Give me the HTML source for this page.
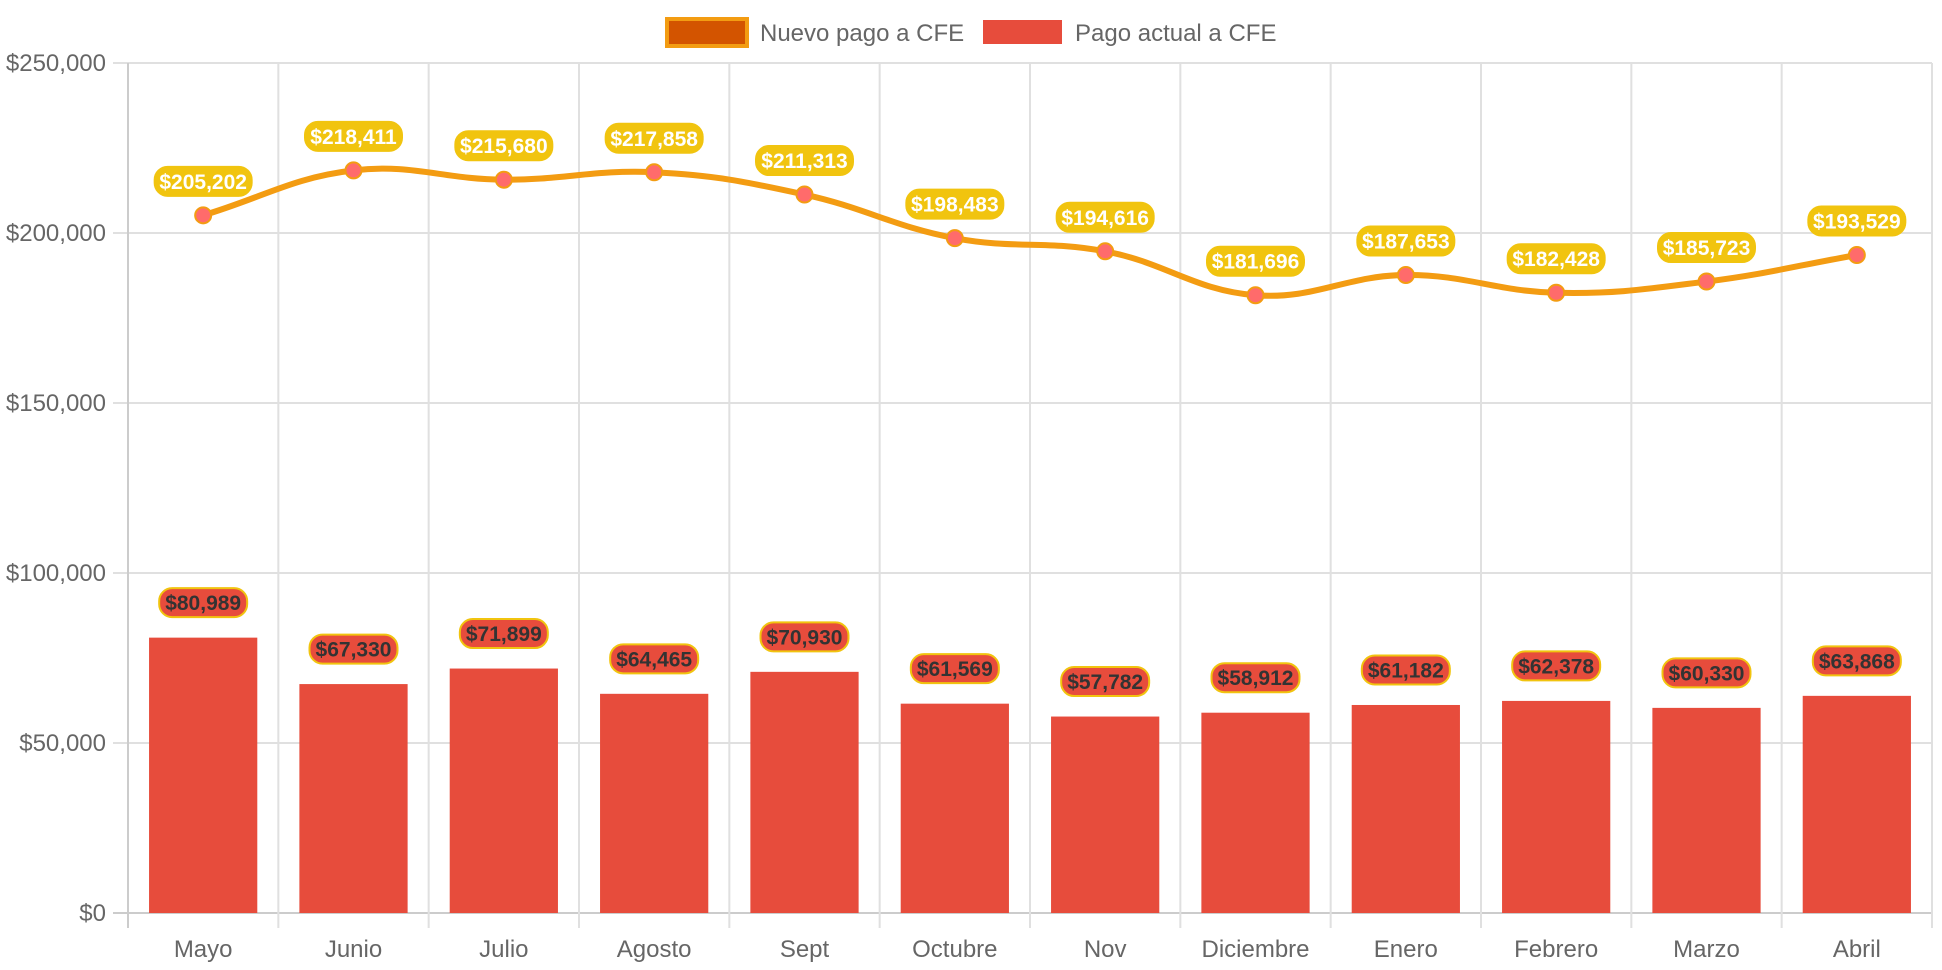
<!DOCTYPE html>
<html><head><meta charset="utf-8"><style>
html,body{margin:0;padding:0;background:#fff;}
svg{display:block;font-family:"Liberation Sans",sans-serif;}
</style></head><body>
<svg id="chart" width="1942" height="970" viewBox="0 0 1942 970" xmlns="http://www.w3.org/2000/svg">
  <g id="legend">
    <g>
      <rect x="667" y="19" width="80" height="27" fill="#d35400" stroke="#f39c12" stroke-width="4"/>
      <text x="760" y="41" font-size="24" fill="#666">Nuevo pago a CFE</text>
    </g>
    <g>
      <rect x="983" y="20" width="79" height="24" fill="#e74c3c"/>
      <text x="1075" y="41" font-size="24" fill="#666">Pago actual a CFE</text>
    </g>
  </g>
  <g id="grid"></g>
  <g id="bars"></g>
  <g id="line"></g>
  <g id="labels"></g>
</svg>
<script>
const categories = ["Mayo","Junio","Julio","Agosto","Sept","Octubre","Nov","Diciembre","Enero","Febrero","Marzo","Abril"];
const nuevoPago = [205202,218411,215680,217858,211313,198483,194616,181696,187653,182428,185723,193529];
const pagoActual = [80989,67330,71899,64465,70930,61569,57782,58912,61182,62378,60330,63868];
const yTicks = [0,50000,100000,150000,200000,250000];
const yTickLabels = ["$0","$50,000","$100,000","$150,000","$200,000","$250,000"];

const NS = "http://www.w3.org/2000/svg";
const L = 128, R = 1932, T = 63, B = 913, YMAX = 250000;
const cw = (R - L) / categories.length;
const xc = i => L + cw * (i + 0.5);
const y = v => B - v / YMAX * (B - T);
const fmt = v => "$" + v.toLocaleString("en-US");
function mk(tag, attrs, parent) {
  const e = document.createElementNS(NS, tag);
  for (const k in attrs) e.setAttribute(k, attrs[k]);
  parent.appendChild(e);
  return e;
}
const grid = document.getElementById("grid");
yTicks.forEach((t, i) => {
  const ln = mk("line", {x1: L - 15, x2: R, y1: y(t), y2: y(t), stroke: t === 0 ? "#ccc" : "#e0e0e0", "stroke-width": 2}, grid);
  
  
  const tx = mk("text", {x: L - 22, y: y(t) + 8, "text-anchor": "end", "font-size": 24, fill: "#666"}, grid);
  tx.textContent = yTickLabels[i];
  
  
});
for (let i = 0; i <= categories.length; i++) {
  const x = L + cw * i;
  const ln = mk("line", {x1: x, x2: x, y1: T, y2: B + 15, stroke: i === 0 ? "#ccc" : "#e0e0e0", "stroke-width": 2}, grid);
  
  
}
categories.forEach((c, i) => {
  const tx = mk("text", {x: xc(i), y: 957, "text-anchor": "middle", "font-size": 24, fill: "#666"}, grid);
  tx.textContent = c;
  
  
});
const bars = document.getElementById("bars");
const bw = cw * 0.72;
pagoActual.forEach((v, i) => {
  const r = mk("rect", {x: xc(i) - bw / 2, y: y(v), width: bw, height: B - y(v), fill: "#e74c3c"}, bars);
  
  
});
const pts = nuevoPago.map((v, i) => [xc(i), y(v)]);
const tension = 0.4;
function ctrl(p0, p1, p2) {
  const d01 = Math.hypot(p1[0]-p0[0], p1[1]-p0[1]), d12 = Math.hypot(p2[0]-p1[0], p2[1]-p1[1]);
  const s01 = d01 / (d01 + d12), s12 = d12 / (d01 + d12);
  const fa = tension * s01, fb = tension * s12;
  return [[p1[0] - fa*(p2[0]-p0[0]), p1[1] - fa*(p2[1]-p0[1])], [p1[0] + fb*(p2[0]-p0[0]), p1[1] + fb*(p2[1]-p0[1])]];
}
const cps = pts.map((p, i) => ctrl(pts[Math.max(0,i-1)], p, pts[Math.min(pts.length-1,i+1)]));
let d = "M" + pts[0][0] + "," + pts[0][1];
for (let i = 1; i < pts.length; i++) {
  const a = cps[i-1][1], b = cps[i][0];
  d += " C" + a[0] + "," + a[1] + " " + b[0] + "," + b[1] + " " + pts[i][0] + "," + pts[i][1];
}
const lineG = document.getElementById("line");
const path = mk("path", {d: d, fill: "none", stroke: "#f39c12", "stroke-width": 6}, lineG);


pts.forEach((p, i) => {
  const c = mk("circle", {cx: p[0], cy: p[1], r: 8, fill: "#ff6b6b", stroke: "#f39c12", "stroke-width": 2}, lineG);
  
  
});
const labels = document.getElementById("labels");
function label(cx, cy, text, fill, stroke, color, w) {
  const g = mk("g", {}, labels);
  mk("rect", {x: cx - w/2, y: cy - 14.5, width: w, height: 29, rx: 13, fill: fill, stroke: stroke, "stroke-width": 2}, g);
  const t = mk("text", {x: cx, y: cy + 7.5, "text-anchor": "middle", "font-size": 21, "font-weight": "bold", fill: color}, g);
  t.textContent = text;
  return g;
}
nuevoPago.forEach((v, i) => {
  const g = label(xc(i), y(v) - 34, fmt(v), "#f1c40f", "#f1c40f", "#fff", 97);
  
  
});
pagoActual.forEach((v, i) => {
  const g = label(xc(i), y(v) - 35, fmt(v), "#e74c3c", "#f1c40f", "#333", 88);
  
  
});
</script>
</body></html>
